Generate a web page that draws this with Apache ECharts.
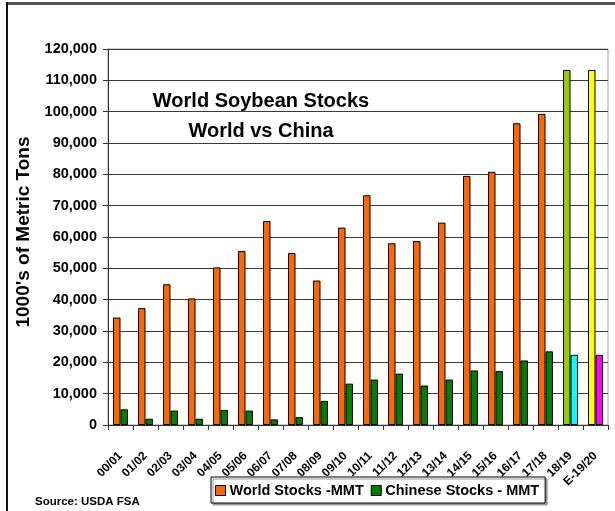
<!DOCTYPE html>
<html>
<head>
<meta charset="utf-8">
<script src="https://cdn.jsdelivr.net/npm/echarts@6/dist/echarts.min.js"></script>
<style>
  html, body { margin: 0; padding: 0; background: #fff; }
  #chart { width: 615px; height: 511px; }
</style>
</head>
<body>
<div id="chart"></div>
<script>
const seasons = ['00/01', '01/02', '02/03', '03/04', '04/05', '05/06', '06/07', '07/08', '08/09', '09/10',
    '10/11', '11/12', '12/13', '13/14', '14/15', '15/16', '16/17', '17/18', '18/19', 'E-19/20'];
const worldStocks = [34300, 37300, 44900, 40400, 50300, 55500, 65100, 54900, 46100, 63000,
    73300, 58000, 58700, 64600, 79500, 80800, 96300, 99300, 113300, 113300];
const chinaStocks = [5000, 2000, 4600, 2000, 4800, 4600, 1800, 2500, 7700, 13200,
    14500, 16400, 12600, 14500, 17400, 17200, 20600, 23500, 22400, 22400];
const yTicks = [0, 10000, 20000, 30000, 40000, 50000, 60000, 70000, 80000, 90000, 100000, 110000, 120000];

// last two seasons get their own colours, like the original sheet
const worldColors = { 18: '#99CC00', 19: '#FFFF00' };
const chinaColors = { 18: '#00FFFF', 19: '#FF00FF' };

const font = "'Liberation Sans', Arial, sans-serif";

const chart = echarts.init(document.getElementById('chart'), null, { renderer: 'canvas' });

const option = {
    backgroundColor: '#ffffff',
    animation: false,
    textStyle: { fontFamily: font },
    grid: {
        left: 108,
        right: 7,
        top: 49,
        bottom: 86,
        show: true,
        borderColor: '#a0a0a0',
        borderWidth: 1,
    },
    legend: {
        left: 211,
        top: 477,
        orient: 'horizontal',
        icon: 'rect',
        itemWidth: 10,
        itemHeight: 10,
        itemGap: 7,
        padding: [6, 6, 5, 4],
        backgroundColor: '#ffffff',
        borderColor: '#000000',
        borderWidth: 1,
        shadowColor: '#999999',
        shadowOffsetX: 2,
        shadowOffsetY: 2,
        itemStyle: { borderColor: '#000000', borderWidth: 1 },
        textStyle: {
            color: '#000000',
            fontSize: 14.5,
            fontWeight: 'bold',
            fontFamily: font,
            padding: [0, 0, 0, -1],
        },
        data: ['World Stocks -MMT', 'Chinese Stocks - MMT'],
    },
    xAxis: {
        type: 'category',
        data: seasons,
        axisLine: { lineStyle: { color: '#333333', width: 1 } },
        axisTick: { show: true, length: 5, lineStyle: { color: '#333333' } },
        axisLabel: {
            rotate: 45,
            interval: 0,
            margin: 29,
            color: '#000000',
            fontSize: 12,
            fontWeight: 'bold',
            fontFamily: font,
        },
        splitLine: { show: false },
    },
    yAxis: {
        type: 'value',
        min: yTicks[0],
        max: yTicks[yTicks.length - 1],
        interval: 10000,
        name: "1000's of Metric Tons",
        nameLocation: 'middle',
        nameRotate: 90,
        nameGap: 70,
        nameTextStyle: {
            color: '#000000',
            fontSize: 19,
            fontWeight: 'bold',
            fontFamily: font,
            padding: [0, 0, 0, 10],
        },
        axisLine: { show: true, lineStyle: { color: '#333333', width: 1 } },
        axisTick: { show: true, length: 5, lineStyle: { color: '#333333' } },
        axisLabel: {
            margin: 11,
            color: '#000000',
            fontSize: 14.5,
            fontWeight: 'bold',
            fontFamily: font,
            formatter: (v) => v.toLocaleString('en-US'),
        },
        splitLine: { show: true, lineStyle: { color: '#3a3a3a', width: 1 } },
    },
    series: [
        {
            name: 'World Stocks -MMT',
            type: 'bar',
            barWidth: 7.5,
            barGap: '0%',
            itemStyle: { color: '#FF6600', borderColor: '#000000', borderWidth: 1 },
            data: worldStocks.map((v, i) => worldColors[i]
                ? { value: v, itemStyle: { color: worldColors[i] } }
                : v),
        },
        {
            name: 'Chinese Stocks - MMT',
            type: 'bar',
            barWidth: 7.5,
            itemStyle: { color: '#008000', borderColor: '#000000', borderWidth: 1 },
            data: chinaStocks.map((v, i) => chinaColors[i]
                ? { value: v, itemStyle: { color: chinaColors[i] } }
                : v),
        },
    ],
    graphic: [
        // frame of the sheet: grey top edge and black left edge
        { type: 'rect', shape: { x: 7, y: 2, width: 608, height: 3 }, style: { fill: '#555555' }, silent: true },
        { type: 'rect', shape: { x: 6, y: 2, width: 2, height: 509 }, style: { fill: '#111111' }, silent: true },
        {
            type: 'text',
            silent: true,
            style: {
                x: 261,
                y: 86,
                text: 'World Soybean Stocks\nWorld vs China',
                textAlign: 'center',
                textVerticalAlign: 'top',
                font: "bold 20px 'Liberation Sans', Arial, sans-serif",
                lineHeight: 30,
                fill: '#000000',
                textShadowColor: '#b0b0b0',
                textShadowOffsetX: 1,
                textShadowOffsetY: 1,
            },
        },
        {
            type: 'text',
            silent: true,
            style: {
                x: 35,
                y: 502,
                text: 'Source: USDA FSA',
                textAlign: 'left',
                textVerticalAlign: 'middle',
                font: "bold 11.5px 'Liberation Sans', Arial, sans-serif",
                fill: '#000000',
            },
        },
    ],
};

chart.setOption(option);
</script>
</body>
</html>
